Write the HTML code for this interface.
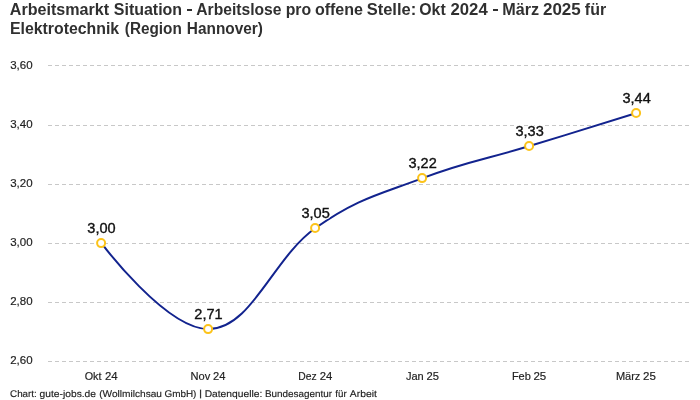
<!DOCTYPE html>
<html><head><meta charset="utf-8">
<style>
html,body{margin:0;padding:0;background:#fff;}
body{width:700px;height:400px;overflow:hidden;font-family:"Liberation Sans",sans-serif;}
svg{display:block;position:absolute;left:0;top:0;will-change:transform;}
svg text{font-family:"Liberation Sans",sans-serif;}
.title text{font-size:16px;font-weight:700;fill:#303030;}
.grid line{stroke:#c8c8c8;stroke-width:1;stroke-dasharray:4 3;}
.ylab text{font-size:11.5px;fill:#222;stroke:#222;stroke-width:0.18px;}
.xlab text{font-size:11.5px;fill:#222;stroke:#222;stroke-width:0.18px;}
.dl text{font-size:14px;fill:#111;stroke:#111;stroke-width:0.35px;text-anchor:middle;}
.dl text.o{fill:#fff;stroke:#fff;stroke-width:2.5px;stroke-linejoin:round;}
.mk circle{fill:#fff;stroke:#fcc31a;stroke-width:2;}
.foot text{font-size:9.7px;fill:#222;stroke:#222;stroke-width:0.15px;text-rendering:geometricPrecision;}
</style></head><body>
<svg width="700" height="400" viewBox="0 0 700 400">
<g class="title">
<text id="w_l1_0" x="9.85" y="15" textLength="99.28" lengthAdjust="spacingAndGlyphs">Arbeitsmarkt</text>
<text id="w_l1_1" x="113.80" y="15" textLength="68.32" lengthAdjust="spacingAndGlyphs">Situation</text>
<rect id="w_l1_2" x="187.0" y="9" width="5.0" height="2" fill="#303030"/>
<text id="w_l1_3" x="196.33" y="15" textLength="85.16" lengthAdjust="spacingAndGlyphs">Arbeitslose</text>
<text id="w_l1_4" x="285.66" y="15" textLength="25.49" lengthAdjust="spacingAndGlyphs">pro</text>
<text id="w_l1_5" x="314.89" y="15" textLength="48.06" lengthAdjust="spacingAndGlyphs">offene</text>
<text id="w_l1_6" x="366.69" y="15" textLength="49.48" lengthAdjust="spacingAndGlyphs">Stelle:</text>
<text id="w_l1_7" x="419.32" y="15" textLength="26.38" lengthAdjust="spacingAndGlyphs">Okt</text>
<text id="w_l1_8" x="450.53" y="15" textLength="37.17" lengthAdjust="spacingAndGlyphs">2024</text>
<rect id="w_l1_9" x="493.0" y="9" width="5.0" height="2" fill="#303030"/>
<text id="w_l1_10" x="502.23" y="15" textLength="36.86" lengthAdjust="spacingAndGlyphs">März</text>
<text id="w_l1_11" x="542.97" y="15" textLength="37.79" lengthAdjust="spacingAndGlyphs">2025</text>
<text id="w_l1_12" x="584.87" y="15" textLength="21.23" lengthAdjust="spacingAndGlyphs">für</text>
<text id="w_l2_0" x="10.03" y="34" textLength="109.15" lengthAdjust="spacingAndGlyphs">Elektrotechnik</text>
<text id="w_l2_1" x="124.81" y="34" textLength="56.99" lengthAdjust="spacingAndGlyphs">(Region</text>
<text id="w_l2_2" x="186.86" y="34" textLength="76.04" lengthAdjust="spacingAndGlyphs">Hannover)</text>

</g>
<g class="grid">
<line x1="48" x2="690" y1="65.5" y2="65.5"/>
<line x1="48" x2="690" y1="125.5" y2="125.5"/>
<line x1="48" x2="690" y1="184.5" y2="184.5"/>
<line x1="48" x2="690" y1="243.5" y2="243.5"/>
<line x1="48" x2="690" y1="302.5" y2="302.5"/>
<line x1="48" x2="690" y1="361.5" y2="361.5"/>
</g>
<g class="ylab">
<text x="10.2" y="69.0">3,60</text>
<text x="10.2" y="128.0">3,40</text>
<text x="10.2" y="187.0">3,20</text>
<text x="10.2" y="246.0">3,00</text>
<text x="10.2" y="305.0">2,80</text>
<text x="10.2" y="364.0">2,60</text>
</g>
<g class="xlab">
<text id="w_xl_0" x="84.68" y="380" textLength="16.79" lengthAdjust="spacingAndGlyphs">Okt</text>
<text id="w_xl_1" x="104.95" y="380" textLength="12.72" lengthAdjust="spacingAndGlyphs">24</text>
<text id="w_xl_2" x="190.47" y="380" textLength="19.73" lengthAdjust="spacingAndGlyphs">Nov</text>
<text id="w_xl_3" x="212.97" y="380" textLength="12.42" lengthAdjust="spacingAndGlyphs">24</text>
<text id="w_xl_4" x="298.18" y="380" textLength="18.38" lengthAdjust="spacingAndGlyphs">Dez</text>
<text id="w_xl_5" x="319.68" y="380" textLength="12.62" lengthAdjust="spacingAndGlyphs">24</text>
<text id="w_xl_6" x="405.91" y="380" textLength="17.79" lengthAdjust="spacingAndGlyphs">Jan</text>
<text id="w_xl_7" x="426.44" y="380" textLength="12.45" lengthAdjust="spacingAndGlyphs">25</text>
<text id="w_xl_8" x="511.90" y="380" textLength="18.95" lengthAdjust="spacingAndGlyphs">Feb</text>
<text id="w_xl_9" x="533.45" y="380" textLength="12.83" lengthAdjust="spacingAndGlyphs">25</text>
<text id="w_xl_10" x="615.88" y="380" textLength="24.52" lengthAdjust="spacingAndGlyphs">März</text>
<text id="w_xl_11" x="642.99" y="380" textLength="12.86" lengthAdjust="spacingAndGlyphs">25</text>
</g>
<path d="M101.50 243.10 C101.50 243.10 165.70 329.10 208.50 329.10 C251.30 329.10 272.70 258.25 315.50 228.05 C358.30 197.85 379.70 194.50 422.50 178.10 C465.30 161.70 486.70 159.06 529.50 146.05 C572.30 133.04 636.50 113.05 636.50 113.05" fill="none" stroke="#12238e" stroke-width="2" stroke-linecap="butt"/>
<g class="mk">
<circle cx="101.10" cy="243.10" r="4"/>
<circle cx="208.10" cy="329.10" r="4"/>
<circle cx="315.10" cy="228.05" r="4"/>
<circle cx="422.10" cy="178.10" r="4"/>
<circle cx="529.10" cy="146.05" r="4"/>
<circle cx="636.10" cy="113.05" r="4"/>
</g>
<g class="dl">
<text class="o" x="101.5" y="233.0" textLength="28.3" lengthAdjust="spacingAndGlyphs">3,00</text>
<text x="101.5" y="233.0" textLength="28.3" lengthAdjust="spacingAndGlyphs">3,00</text>
<text class="o" x="208.5" y="319.0" textLength="28.3" lengthAdjust="spacingAndGlyphs">2,71</text>
<text x="208.5" y="319.0" textLength="28.3" lengthAdjust="spacingAndGlyphs">2,71</text>
<text class="o" x="315.6" y="218.0" textLength="28.3" lengthAdjust="spacingAndGlyphs">3,05</text>
<text x="315.6" y="218.0" textLength="28.3" lengthAdjust="spacingAndGlyphs">3,05</text>
<text class="o" x="422.6" y="168.0" textLength="28.3" lengthAdjust="spacingAndGlyphs">3,22</text>
<text x="422.6" y="168.0" textLength="28.3" lengthAdjust="spacingAndGlyphs">3,22</text>
<text class="o" x="529.6" y="136.0" textLength="28.3" lengthAdjust="spacingAndGlyphs">3,33</text>
<text x="529.6" y="136.0" textLength="28.3" lengthAdjust="spacingAndGlyphs">3,33</text>
<text class="o" x="636.6" y="103.0" textLength="28.3" lengthAdjust="spacingAndGlyphs">3,44</text>
<text x="636.6" y="103.0" textLength="28.3" lengthAdjust="spacingAndGlyphs">3,44</text>
</g>
<g class="foot">
<text id="w_ft_0" x="10.04" y="397" textLength="26.76" lengthAdjust="spacingAndGlyphs">Chart:</text>
<text id="w_ft_1" x="39.60" y="397" textLength="56.42" lengthAdjust="spacingAndGlyphs">gute-jobs.de</text>
<text id="w_ft_2" x="99.17" y="397" textLength="62.85" lengthAdjust="spacingAndGlyphs">(Wollmilchsau</text>
<text id="w_ft_3" x="164.45" y="397" textLength="31.99" lengthAdjust="spacingAndGlyphs">GmbH)</text>
<rect id="w_ft_4" x="199.95" y="389.6" width="1.2" height="8.8" fill="#333"/>
<text id="w_ft_5" x="204.65" y="397" textLength="57.67" lengthAdjust="spacingAndGlyphs">Datenquelle:</text>
<text id="w_ft_6" x="264.99" y="397" textLength="67.11" lengthAdjust="spacingAndGlyphs">Bundesagentur</text>
<text id="w_ft_7" x="335.29" y="397" textLength="11.37" lengthAdjust="spacingAndGlyphs">für</text>
<text id="w_ft_8" x="349.89" y="397" textLength="27.04" lengthAdjust="spacingAndGlyphs">Arbeit</text>
</g>
</svg>
</body></html>
